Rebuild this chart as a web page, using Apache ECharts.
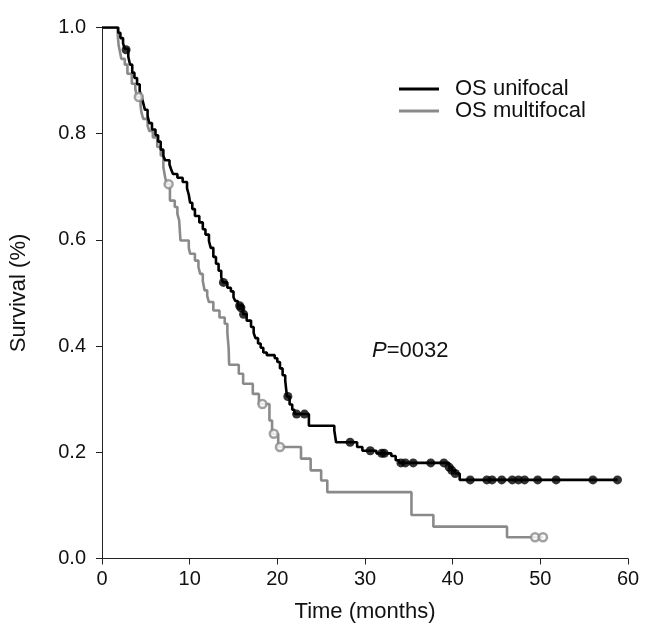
<!DOCTYPE html>
<html><head><meta charset="utf-8">
<script src="https://cdn.jsdelivr.net/npm/echarts@6/dist/echarts.min.js"></script>
<style>html,body{margin:0;padding:0;background:#fff}#c{width:668px;height:637px}</style>
</head><body><div id="c"></div>
<script>
const xTicks = [0, 10, 20, 30, 40, 50, 60];
const yTicks = [0, 0.2, 0.4, 0.6, 0.8, 1.0];
const seriesNames = ['OS unifocal', 'OS multifocal'];
const pLabel = 'P';
const pValue = '=0032';

// Kaplan-Meier steps: [time, survival after event]
const uniSteps = [
  [0,1.0],[1.85,0.99],[2.1,0.98],[2.4,0.97],[2.6,0.96],[3.0,0.945],[3.2,0.93],[3.45,0.915],[3.7,0.905],
  [4.0,0.893],[4.3,0.88],[4.5,0.87],[4.7,0.858],[4.9,0.845],[5.2,0.833],[5.4,0.82],[5.7,0.808],[6.1,0.797],
  [6.4,0.785],[6.7,0.77],[7.0,0.758],[7.2,0.75],[7.7,0.742],[7.9,0.732],[8.1,0.724],[8.6,0.717],[9.2,0.709],
  [9.7,0.697],[9.9,0.685],[10.05,0.67],[10.3,0.658],[10.6,0.645],[11.1,0.633],[11.5,0.62],[11.8,0.61],
  [12.2,0.598],[12.4,0.585],[12.7,0.568],[13.0,0.555],[13.3,0.542],[13.6,0.53],[13.8,0.52],[14.3,0.51],
  [14.7,0.503],[15.0,0.492],[15.2,0.485],[15.5,0.476],[16.1,0.46],[16.5,0.448],[17.0,0.436],[17.3,0.425],
  [17.5,0.415],[17.8,0.405],[18.1,0.397],[18.4,0.388],[18.8,0.383],[19.7,0.377],[20.0,0.37],[20.3,0.358],
  [20.6,0.345],[20.9,0.335],[21.0,0.32],[21.1,0.305],[21.4,0.29],[21.7,0.28],[21.95,0.272],[23.6,0.25],
  [26.5,0.241],[26.7,0.219],[29.1,0.21],[29.7,0.203],[31.3,0.198],[33.0,0.193],[33.5,0.185],[33.9,0.18],
  [39.6,0.172],[39.9,0.166],[40.3,0.16],[40.8,0.148],[58.8,0.148]
];
const uniCensor = [
  [2.75,0.958],[13.85,0.52],[15.7,0.476],[15.85,0.472],[16.15,0.46],[21.2,0.305],[22.2,0.272],[23.1,0.272],
  [28.3,0.219],[30.6,0.203],[31.9,0.198],[32.2,0.198],[34.1,0.18],[34.6,0.18],[35.5,0.18],[37.5,0.18],
  [39.0,0.18],[39.6,0.172],[39.9,0.166],[40.3,0.16],[42.0,0.148],[43.9,0.148],[44.5,0.148],[45.6,0.148],
  [46.8,0.148],[47.5,0.148],[48.2,0.148],[49.7,0.148],[51.8,0.148],[56.0,0.148],[58.8,0.148]
];
const multiSteps = [
  [0,1.0],[1.8,0.985],[1.9,0.966],[2.1,0.95],[2.2,0.941],[2.6,0.93],[2.9,0.913],[3.4,0.894],[3.8,0.884],
  [4.0,0.869],[4.4,0.852],[4.5,0.84],[4.7,0.828],[5.2,0.815],[5.4,0.805],[5.8,0.793],[6.3,0.775],[6.7,0.759],
  [7.0,0.737],[7.2,0.718],[7.4,0.705],[7.75,0.674],[8.3,0.662],[8.6,0.649],[8.8,0.637],[8.95,0.599],
  [9.9,0.585],[10.05,0.574],[10.6,0.561],[11.0,0.549],[11.2,0.536],[11.5,0.522],[11.7,0.505],[12.0,0.494],
  [12.2,0.483],[12.7,0.467],[13.4,0.454],[14.0,0.442],[14.3,0.425],[14.45,0.395],[14.5,0.365],[15.6,0.348],
  [16.1,0.329],[17.2,0.31],[17.9,0.291],[19.1,0.26],[19.4,0.235],[20.1,0.21],[22.7,0.188],[23.8,0.166],
  [25.0,0.147],[25.7,0.125],[35.3,0.082],[37.8,0.06],[46.2,0.04],[50.3,0.04]
];
const multiCensor = [
  [4.2,0.869],[7.6,0.705],[18.3,0.291],[19.6,0.235],[20.3,0.21],[49.4,0.04],[50.3,0.04]
];

const FONT = 'Liberation Sans, Arial, sans-serif';
const BLACK = '#000000';
const GREY = '#8a8a8a';

const chart = echarts.init(document.getElementById('c'), null, {renderer: 'canvas'});
chart.setOption({
  backgroundColor: '#ffffff',
  animation: false,
  grid: {left: 90, right: 40, top: 27.5, bottom: 78.5, containLabel: false},
  legend: {
    orient: 'vertical', left: 394, top: 73,
    itemWidth: 40, itemHeight: 3, itemGap: 0,
    textStyle: {fontFamily: FONT, fontSize: 22, color: '#111', lineHeight: 21, padding: [0, 0, 0, 11]},
    data: seriesNames.map(n => ({name: n, icon: 'rect'}))
  },
  xAxis: {
    type: 'value', min: xTicks[0], max: xTicks[xTicks.length - 1], interval: 10,
    name: 'Time (months)', nameLocation: 'middle', nameGap: 42,
    nameTextStyle: {fontFamily: FONT, fontSize: 22, color: '#111'},
    axisLine: {show: true, lineStyle: {color: '#222', width: 1}},
    axisTick: {show: true, inside: false, length: 6, lineStyle: {color: '#222'}},
    axisLabel: {fontFamily: FONT, fontSize: 20, color: '#111', margin: 11},
    splitLine: {show: false}
  },
  yAxis: {
    type: 'value', min: yTicks[0], max: yTicks[yTicks.length - 1], interval: 0.2,
    name: 'Survival (%)', nameLocation: 'middle', nameGap: 72,
    nameTextStyle: {fontFamily: FONT, fontSize: 22, color: '#111'},
    axisLine: {show: true, lineStyle: {color: '#222', width: 1}},
    axisTick: {show: true, inside: false, length: 6, lineStyle: {color: '#222'}},
    axisLabel: {fontFamily: FONT, fontSize: 20, color: '#111', margin: 16, formatter: v => v.toFixed(1)},
    splitLine: {show: false}
  },
  series: [
    {name: seriesNames[0], type: 'line', step: 'end', data: uniSteps, showSymbol: false,
     color: BLACK, lineStyle: {color: BLACK, width: 2.6}, z: 3},
    {name: seriesNames[1], type: 'line', step: 'end', data: multiSteps, showSymbol: false,
     color: GREY, lineStyle: {color: GREY, width: 2.6}, z: 2},
    {name: 'uniCensor', type: 'scatter', data: uniCensor, symbol: 'circle', symbolSize: 9,
     itemStyle: {color: BLACK}, z: 4},
    {name: 'multiCensor', type: 'scatter', data: multiCensor, symbol: 'circle', symbolSize: 8,
     itemStyle: {color: '#ffffff', borderColor: GREY, borderWidth: 2.5}, z: 4}
  ],
  graphic: [{
    type: 'text', left: 372, top: 340,
    style: {
      text: '{i|' + pLabel + '}' + pValue,
      fontFamily: FONT, fontSize: 22, fill: '#111',
      rich: {i: {fontStyle: 'italic', fontFamily: FONT, fontSize: 22, fill: '#111'}}
    }
  }]
});
</script>
</body></html>
